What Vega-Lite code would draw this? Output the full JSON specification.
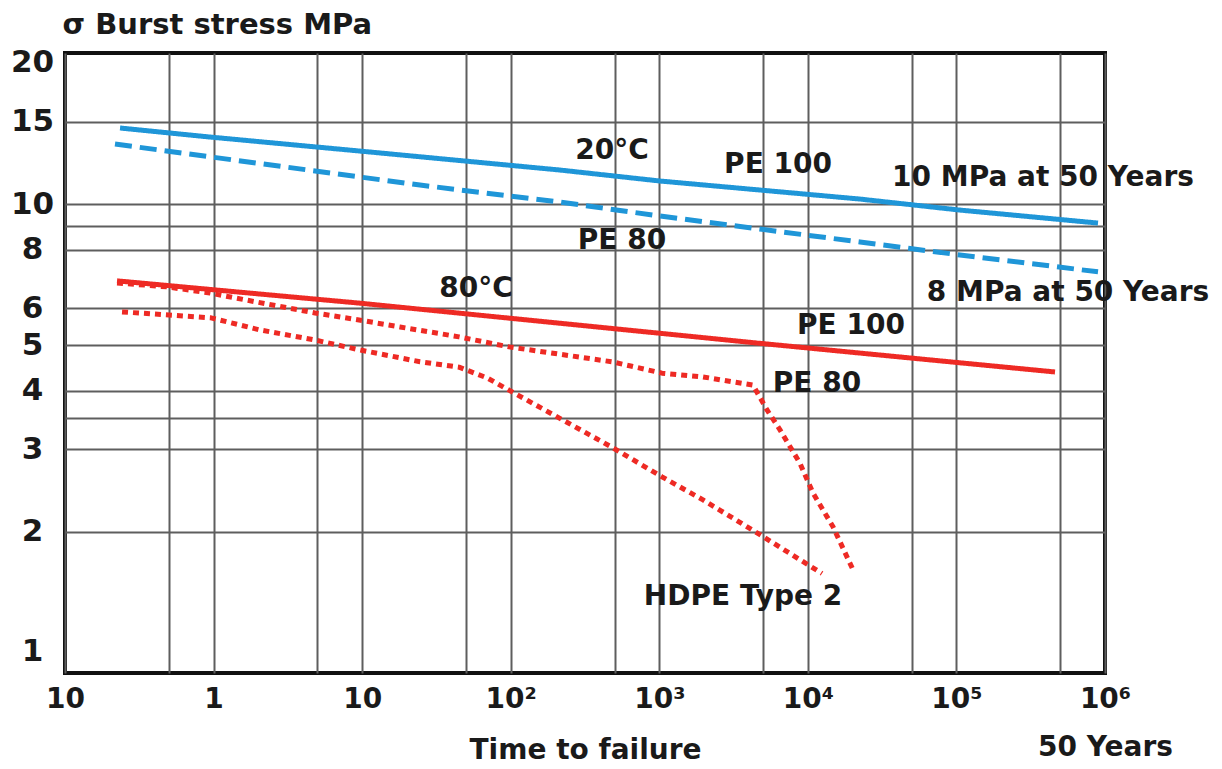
{
  "$schema": "https://vega.github.io/schema/vega-lite/v6.json",
  "autosize": {"type": "none"},
  "width": 1040,
  "height": 620,
  "padding": {"left": 65, "top": 53, "right": 117, "bottom": 96},
  "background": "white",
  "config": {
    "view": {"stroke": "#111111", "strokeWidth": 4},
    "font": "DejaVu Sans"
  },
  "datasets": {
    "curves": [
      {"series": "PE100 20C", "t": 0.2346, "stress": 14.53},
      {"series": "PE100 20C", "t": 0.946, "stress": 13.9},
      {"series": "PE100 20C", "t": 9.53, "stress": 12.98},
      {"series": "PE100 20C", "t": 214.6, "stress": 11.82},
      {"series": "PE100 20C", "t": 1011, "stress": 11.2},
      {"series": "PE100 20C", "t": 22440, "stress": 10.25},
      {"series": "PE100 20C", "t": 105700, "stress": 9.71},
      {"series": "PE100 20C", "t": 897400, "stress": 9.11},
      {"series": "PE80 20C", "t": 0.217, "stress": 13.43},
      {"series": "PE80 20C", "t": 24.5, "stress": 10.98},
      {"series": "PE80 20C", "t": 214.6, "stress": 10.1},
      {"series": "PE80 20C", "t": 1011, "stress": 9.43},
      {"series": "PE80 20C", "t": 22440, "stress": 8.3},
      {"series": "PE80 20C", "t": 105700, "stress": 7.79},
      {"series": "PE80 20C", "t": 897400, "stress": 7.17},
      {"series": "PE100 80C", "t": 0.224, "stress": 6.86},
      {"series": "PE100 80C", "t": 2.05, "stress": 6.43},
      {"series": "PE100 80C", "t": 9.53, "stress": 6.15},
      {"series": "PE100 80C", "t": 4548, "stress": 5.055},
      {"series": "PE100 80C", "t": 41710, "stress": 4.72},
      {"series": "PE100 80C", "t": 460800, "stress": 4.385},
      {"series": "PE80 80C", "t": 0.224, "stress": 6.79},
      {"series": "PE80 80C", "t": 0.486, "stress": 6.66},
      {"series": "PE80 80C", "t": 0.946, "stress": 6.46},
      {"series": "PE80 80C", "t": 1.96, "stress": 6.18},
      {"series": "PE80 80C", "t": 4.82, "stress": 5.86},
      {"series": "PE80 80C", "t": 9.53, "stress": 5.66},
      {"series": "PE80 80C", "t": 17.98, "stress": 5.47},
      {"series": "PE80 80C", "t": 44.9, "stress": 5.21},
      {"series": "PE80 80C", "t": 97.4, "stress": 4.96},
      {"series": "PE80 80C", "t": 480, "stress": 4.61},
      {"series": "PE80 80C", "t": 1043, "stress": 4.36},
      {"series": "PE80 80C", "t": 1969, "stress": 4.28},
      {"series": "PE80 80C", "t": 4273, "stress": 4.11},
      {"series": "PE80 80C", "t": 5309, "stress": 3.64},
      {"series": "PE80 80C", "t": 6494, "stress": 3.3},
      {"series": "PE80 80C", "t": 8853, "stress": 2.8},
      {"series": "PE80 80C", "t": 10830, "stress": 2.42},
      {"series": "PE80 80C", "t": 14770, "stress": 2.05},
      {"series": "PE80 80C", "t": 20130, "stress": 1.66},
      {"series": "HDPE Type 2", "t": 0.242, "stress": 5.89},
      {"series": "HDPE Type 2", "t": 0.961, "stress": 5.72},
      {"series": "HDPE Type 2", "t": 2.05, "stress": 5.39},
      {"series": "HDPE Type 2", "t": 4.82, "stress": 5.13},
      {"series": "HDPE Type 2", "t": 9.53, "stress": 4.89},
      {"series": "HDPE Type 2", "t": 24.5, "stress": 4.61},
      {"series": "HDPE Type 2", "t": 44.9, "stress": 4.49},
      {"series": "HDPE Type 2", "t": 69.3, "stress": 4.26},
      {"series": "HDPE Type 2", "t": 97.4, "stress": 4.01},
      {"series": "HDPE Type 2", "t": 480, "stress": 3.03},
      {"series": "HDPE Type 2", "t": 1043, "stress": 2.62},
      {"series": "HDPE Type 2", "t": 1969, "stress": 2.34},
      {"series": "HDPE Type 2", "t": 4548, "stress": 1.99},
      {"series": "HDPE Type 2", "t": 12450, "stress": 1.63}
    ],
    "notes": [
      {"t": 480, "stress": 13.0, "label": "20°C"},
      {"t": 6300, "stress": 12.12, "label": "PE 100"},
      {"t": 561, "stress": 8.34, "label": "PE 80"},
      {"t": 382500, "stress": 11.36, "label": "10 MPa at 50 Years"},
      {"t": 563600, "stress": 6.46, "label": "8 MPa at 50 Years"},
      {"t": 58.4, "stress": 6.59, "label": "80°C"},
      {"t": 19520, "stress": 5.5, "label": "PE 100"},
      {"t": 11520, "stress": 4.134, "label": "PE 80"},
      {"t": 3660, "stress": 1.452, "label": "HDPE Type 2"}
    ]
  },
  "encoding": {
    "x": {
      "field": "t",
      "type": "quantitative",
      "scale": {"type": "log", "domain": [0.1, 1000000], "nice": false},
      "axis": {
        "title": "Time to failure",
        "titleFont": "DejaVu Sans",
        "titleFontWeight": "bold",
        "titleFontSize": 28,
        "titleColor": "#1a1a1a",
        "titleBaseline": "alphabetic",
        "titleY": 85,
        "values": [0.1, 0.5, 1, 5, 10, 50, 100, 500, 1000, 5000, 10000, 50000, 100000, 500000, 1000000],
        "labelExpr": "datum.value < 0.2 ? '10' : datum.value == 1 ? '1' : datum.value == 10 ? '10' : datum.value == 100 ? '10²' : datum.value == 1000 ? '10³' : datum.value == 10000 ? '10⁴' : datum.value == 100000 ? '10⁵' : datum.value == 1000000 ? ['10⁶', '50 Years'] : ''",
        "labelFont": "DejaVu Sans",
        "labelFontWeight": "bold",
        "labelFontSize": 28,
        "labelColor": "#1a1a1a",
        "labelLineHeight": 48,
        "labelPadding": 12,
        "labelOverlap": false,
        "labelFlush": false,
        "labelBound": false,
        "ticks": false,
        "tickSize": 0,
        "domain": false,
        "grid": true,
        "gridColor": "#5e5e5e",
        "gridWidth": 2,
        "gridOpacity": 1
      }
    },
    "y": {
      "field": "stress",
      "type": "quantitative",
      "scale": {"type": "log", "domain": [1, 21], "nice": false},
      "axis": {
        "title": "σ Burst stress MPa",
        "titleFont": "DejaVu Sans",
        "titleFontWeight": "bold",
        "titleFontSize": 29,
        "titleColor": "#1a1a1a",
        "titleAngle": 0,
        "titleAlign": "left",
        "titleBaseline": "alphabetic",
        "titleX": -3,
        "titleY": -20,
        "values": [1, 2, 3, 3.5, 4, 5, 6, 8, 9, 10, 15, 20],
        "labelExpr": "datum.value == 3.5 || datum.value == 9 ? '' : format(datum.value, 'd')",
        "labelFont": "DejaVu Sans",
        "labelFontWeight": "bold",
        "labelFontSize": 31,
        "labelColor": "#1a1a1a",
        "labelAlign": "center",
        "labelBaseline": "middle",
        "labelPadding": 33,
        "labelOffset": {"condition": {"test": "datum.value === 1", "value": -22}, "value": 0},
        "labelOverlap": false,
        "labelFlush": false,
        "labelBound": false,
        "ticks": false,
        "tickSize": 0,
        "domain": false,
        "grid": true,
        "gridColor": "#5e5e5e",
        "gridWidth": 2,
        "gridOpacity": {"condition": {"test": "datum.value === 20 || datum.value === 1", "value": 0}, "value": 1}
      }
    }
  },
  "layer": [
    {
      "data": {"name": "curves"},
      "mark": {"type": "line", "strokeWidth": 5, "strokeCap": "butt", "strokeJoin": "round"},
      "encoding": {
        "color": {
          "field": "series",
          "type": "nominal",
          "scale": {
            "domain": ["PE100 20C", "PE80 20C", "PE100 80C", "PE80 80C", "HDPE Type 2"],
            "range": ["#1f96d8", "#1f96d8", "#ee2a24", "#ee2a24", "#ee2a24"]
          },
          "legend": null
        },
        "strokeDash": {
          "field": "series",
          "type": "nominal",
          "scale": {
            "domain": ["PE100 20C", "PE80 20C", "PE100 80C", "PE80 80C", "HDPE Type 2"],
            "range": [[1, 0], [17, 8], [1, 0], [6, 5], [6, 5]]
          },
          "legend": null
        }
      }
    },
    {
      "data": {"name": "notes"},
      "mark": {"type": "text", "font": "DejaVu Sans", "fontWeight": "bold", "fontSize": 28, "color": "#1a1a1a", "align": "center", "baseline": "middle"},
      "encoding": {
        "text": {"field": "label", "type": "nominal"}
      }
    }
  ]
}
